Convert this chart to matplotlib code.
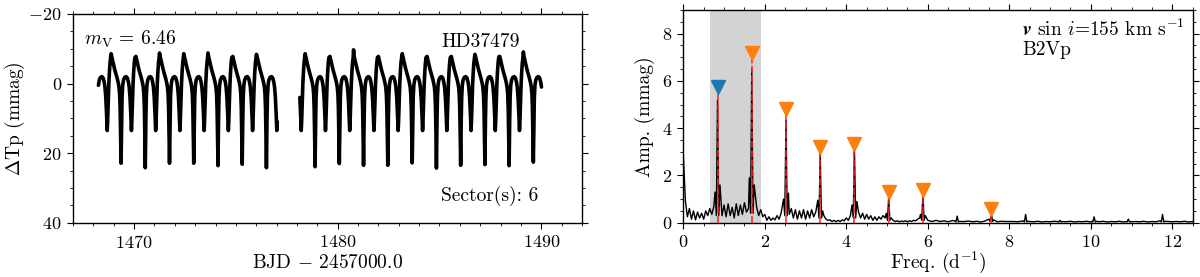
import numpy as np
import matplotlib
matplotlib.use("Agg")
import matplotlib.pyplot as plt
from matplotlib.ticker import MultipleLocator

plt.rcParams.update({
    "font.family": "serif",
    "font.serif": ["cmr10"],
    "mathtext.fontset": "cm",
    "axes.formatter.use_mathtext": True,
    "axes.unicode_minus": True,
    "xtick.direction": "out",
    "ytick.direction": "out",
    "xtick.top": True,
    "ytick.right": True,
    "xtick.major.size": 4,
    "ytick.major.size": 4,
    "xtick.minor.size": 2.5,
    "ytick.minor.size": 2.5,
    "axes.linewidth": 1.0,
})

# ---------------- light curve (left panel) ----------------
# times of the deep minima (BJD - 2457000)
min_times = [1468.17, 1469.36, 1470.55, 1471.74, 1472.93, 1474.12, 1475.31,
             1476.50, 1477.70, 1478.89, 1480.08, 1481.27, 1482.46, 1483.66,
             1484.85, 1486.04, 1487.23, 1488.42, 1489.61]
# brightness of the maximum preceding each minimum (mmag)
peak_mags = [-8.0, -8.6, -7.6, -8.8, -8.6, -8.8, -7.6, -8.4, -8.0,
             -8.6, -7.6, -9.7, -7.4, -8.6, -7.2, -7.4, -8.4, -7.8, -9.1]
# depth of each deep minimum (mmag)
min_depths = [23.0, 22.9, 24.2, 22.9, 22.9, 23.6, 23.2, 24.2, 23.0,
              23.9, 23.0, 23.5, 23.5, 22.8, 24.3, 23.5, 23.3, 23.6, 22.6]
# one rotation-cycle profile: offset from deep minimum (d), dTp (mmag)
profile_dt = [-0.49, -0.46, -0.42, -0.37, -0.31, -0.25, -0.19, -0.14, -0.10, -0.07,
              -0.045, -0.025, -0.01, 0.0, 0.012, 0.03, 0.05, 0.08, 0.12, 0.18,
              0.25, 0.31, 0.36, 0.40, 0.44, 0.48, 0.51, 0.53, 0.56, 0.59,
              0.62, 0.65, 0.68]
profile_mag = [-8.0, -7.8, -6.8, -5.5, -4.0, -2.8, -1.5, -0.3, 1.0, 3.0,
               7.0, 13.0, 19.0, 23.0, 18.0, 10.0, 4.0, 0.5, -1.0, -1.8,
               -2.0, -1.6, -0.5, 1.0, 4.0, 9.0, 13.5, 11.0, 5.0, 0.0,
               -3.5, -6.0, -7.5]
# observed time windows (two TESS orbits)
orbit_windows = [(1468.24, 1477.03), (1478.12, 1490.02)]

# ---------------- amplitude spectrum (right panel) ----------------
noise_freq_low = np.round(np.arange(0, 121) * 0.05, 3)
noise_amp_low = [
    2.9, 0.95, 0.25, 0.6, 0.15, 0.5, 0.12, 0.45, 0.2, 0.4,
    0.15, 0.5, 0.3, 0.6, 0.35, 0.7, 0.6, 0.6, 0.6, 0.3,
    0.75, 0.25, 0.8, 0.3, 0.65, 0.2, 0.8, 0.3, 0.75, 0.35,
    0.85, 0.45, 0.6, 0.6, 0.6, 0.6, 0.65, 0.3, 0.55, 0.25,
    0.35, 0.1, 0.25, 0.1, 0.2, 0.12, 0.3, 0.15, 0.4, 0.4,
    0.4, 0.4, 0.35, 0.6, 0.2, 0.55, 0.15, 0.5, 0.2, 0.55,
    0.15, 0.5, 0.2, 0.55, 0.25, 0.45, 0.4, 0.4, 0.4, 0.3,
    0.15, 0.1, 0.12, 0.05, 0.1, 0.04, 0.1, 0.05, 0.12, 0.08,
    0.2, 0.1, 0.3, 0.3, 0.3, 0.3, 0.45, 0.2, 0.4, 0.15,
    0.35, 0.15, 0.3, 0.1, 0.25, 0.1, 0.25, 0.15, 0.3, 0.2,
    0.2, 0.2, 0.2, 0.1, 0.05, 0.08, 0.04, 0.07, 0.05, 0.08,
    0.04, 0.08, 0.05, 0.1, 0.08, 0.15, 0.2, 0.2, 0.2, 0.1,
    0.1]
noise_freq_high = np.round(6.1 + np.arange(0, 65) * 0.1, 3)
noise_amp_high = [
    0.05, 0.1, 0.05, 0.08, 0.04, 0.09, 0.05, 0.05, 0.05, 0.07,
    0.04, 0.06, 0.03, 0.07, 0.05, 0.08, 0.04, 0.06, 0.05, 0.05,
    0.05, 0.04, 0.06, 0.03, 0.05, 0.04, 0.06, 0.03, 0.05, 0.04,
    0.06, 0.03, 0.05, 0.04, 0.06, 0.03, 0.05, 0.04, 0.06, 0.03,
    0.05, 0.04, 0.06, 0.03, 0.05, 0.04, 0.06, 0.03, 0.05, 0.04,
    0.05, 0.04, 0.06, 0.03, 0.05, 0.04, 0.06, 0.03, 0.05, 0.04,
    0.05, 0.04, 0.06, 0.03, 0.05]
# rotational harmonics: frequency (1/d), peak amplitude, side lobes, trough (mmag)
harm_freq = [0.84, 1.68, 2.52, 3.36, 4.20, 5.04, 5.88, 6.72, 7.56, 8.40, 9.24, 10.08, 10.92, 11.76]
harm_amp = [5.2, 6.5, 4.35, 2.9, 3.1, 1.1, 1.2, 0.28, 0.38, 0.35, 0.1, 0.25, 0.15, 0.35]
side_left = [1.3, 1.9, 1.0, 0.95, 0.75, 0.4, 0.35, 0.08, 0.15, 0.08, 0.05, 0.06, 0.05, 0.08]
side_right = [1.6, 1.6, 1.25, 0.5, 0.9, 0.2, 0.3, 0.06, 0.12, 0.06, 0.05, 0.06, 0.05, 0.06]
trough = [0.3, 0.4, 0.3, 0.2, 0.2, 0.1, 0.1, 0.03, 0.05, 0.03, 0.03, 0.03, 0.03, 0.03]
lobe_offsets = [-0.06, -0.03, 0.0, 0.03, 0.06]
# extracted frequencies marked with triangles
mark_freq = [0.84, 1.68, 2.52, 3.36, 4.20, 5.04, 5.88, 7.56]
mark_amp = [5.75, 7.2, 4.8, 3.2, 3.35, 1.3, 1.4, 0.6]
mark_color = ["#1f77b4", "#ff7f0e", "#ff7f0e", "#ff7f0e", "#ff7f0e",
              "#ff7f0e", "#ff7f0e", "#ff7f0e"]
shade_range = (0.65, 1.90)

# ---------------- figure ----------------
W, H = 1200, 277
fig = plt.figure(figsize=(12, 2.77), dpi=100)
ax1 = fig.add_axes([73 / W, 1 - 222.7 / H, 509 / W, 208.7 / H])
ax2 = fig.add_axes([683.3 / W, 1 - 222.7 / H, 509.4 / W, 212.7 / H])

# light curve
ts, ms = [], []
i0 = profile_dt.index(0.0)
for tmin, pk, dp in zip(min_times, peak_mags, min_depths):
    prof = np.array(profile_mag, float)
    prof[0] = pk
    prof[i0] = dp
    ts.append(tmin + np.array(profile_dt))
    ms.append(prof)
t_all = np.concatenate(ts)
m_all = np.concatenate(ms)
for a, b in orbit_windows:
    sel = (t_all >= a) & (t_all <= b)
    ax1.plot(t_all[sel], m_all[sel], color="black", lw=2.6,
             solid_joinstyle="round", solid_capstyle="round")

ax1.set_xlim(1467, 1492)
ax1.set_ylim(40, -20)
ax1.xaxis.set_major_locator(MultipleLocator(10))
ax1.xaxis.set_minor_locator(MultipleLocator(1))
ax1.yaxis.set_major_locator(MultipleLocator(20))
ax1.yaxis.set_minor_locator(MultipleLocator(5))
ax1.tick_params(which="both", top=True, right=True, labelsize=13, pad=4)
ax1.set_xlabel(r"BJD $-$ 2457000.0", fontsize=14, labelpad=2)
ax1.set_ylabel(r"$\Delta$Tp (mmag)", fontsize=14, labelpad=1)
ax1.text(0.022, 0.88, r"$m_{\rm V}$ = 6.46", transform=ax1.transAxes,
         fontsize=14, ha="left", va="center")
ax1.text(0.724, 0.866, "HD37479", transform=ax1.transAxes,
         fontsize=14, ha="left", va="center")
ax1.text(0.723, 0.128, "Sector(s): 6", transform=ax1.transAxes,
         fontsize=14, ha="left", va="center")

# amplitude spectrum
nf = np.concatenate([noise_freq_low, noise_freq_high])
na = np.concatenate([np.array(noise_amp_low, float), np.array(noise_amp_high, float)])
keep = np.ones(nf.shape, bool)
for f in harm_freq:
    keep &= np.abs(nf - f) > 0.075
pf = [nf[keep]]
pa = [na[keep]]
for f, a, l, r, tr in zip(harm_freq, harm_amp, side_left, side_right, trough):
    pf.append(f + np.array(lobe_offsets))
    pa.append(np.array([l, tr, a, tr, r]))
pf = np.concatenate(pf)
pa = np.concatenate(pa)
order = np.argsort(pf)
ax2.axvspan(*shade_range, color="#d3d3d3", lw=0, zorder=0)
ax2.plot(pf[order], pa[order], color="black", lw=1.0, zorder=2)
ax2.vlines(mark_freq, 0, mark_amp, colors="#ff2020", lw=1.3,
           linestyles=(0, (4, 1.2)), alpha=0.85, zorder=3)
for f, a, c in zip(mark_freq, mark_amp, mark_color):
    ax2.plot([f], [a], marker="v", ms=10, color=c, mec=c, zorder=4, ls="none")

ax2.set_xlim(0, 12.5)
ax2.set_ylim(0, 9)
ax2.xaxis.set_major_locator(MultipleLocator(2))
ax2.xaxis.set_minor_locator(MultipleLocator(0.5))
ax2.yaxis.set_major_locator(MultipleLocator(2))
ax2.yaxis.set_minor_locator(MultipleLocator(0.5))
ax2.tick_params(which="both", top=True, right=True, labelsize=13, pad=4)
ax2.set_xlabel(r"Freq. (d$^{-1}$)", fontsize=14, labelpad=0)
ax2.set_ylabel("Amp. (mmag)", fontsize=14, labelpad=5)
ax2.text(0.665, 0.911, r"$\mathbfit{v}$ sin $i$=155 km s$^{-1}$", transform=ax2.transAxes,
         fontsize=14, ha="left", va="center")
ax2.text(0.665, 0.812, "B2Vp", transform=ax2.transAxes,
         fontsize=14, ha="left", va="center")

fig.savefig("out.png", dpi=100)
